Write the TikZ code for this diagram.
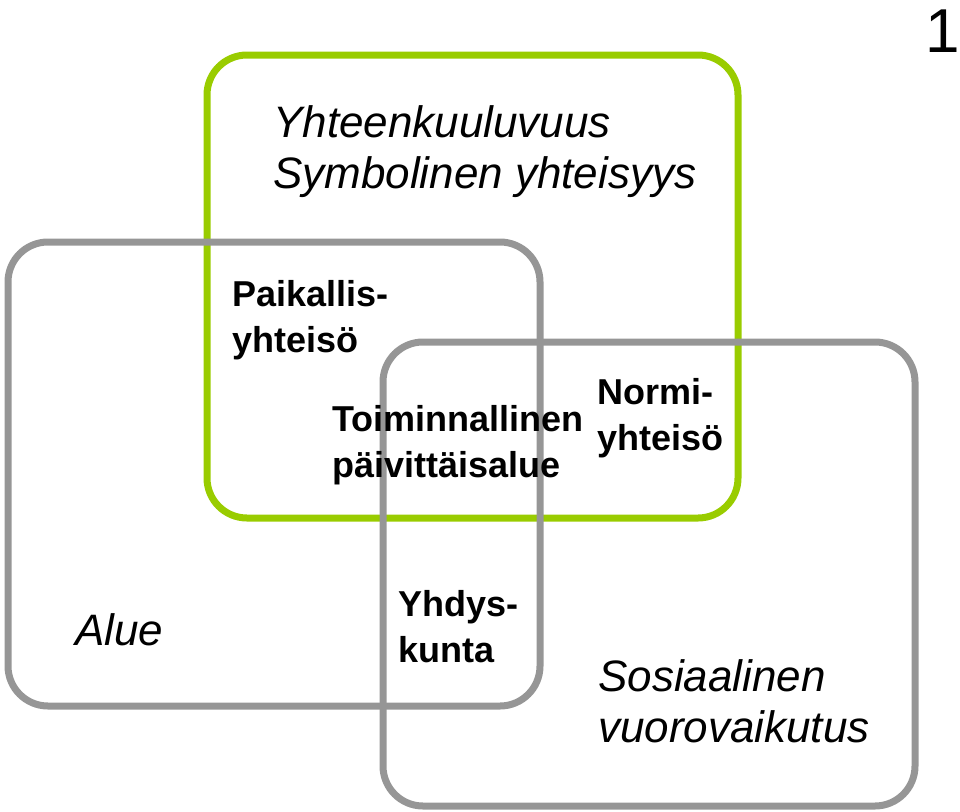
\documentclass[tikz,border=0pt]{standalone}
\usepackage{fontspec}
\setmainfont{Liberation Sans}
\definecolor{grn}{RGB}{153,204,0}
\definecolor{gry}{RGB}{150,150,150}
\begin{document}
\begin{tikzpicture}[x=1pt,y=-1pt,
  box/.style={line width=7pt,rounded corners=40pt},
  it/.style={anchor=base west,font=\fontsize{44}{51}\selectfont\itshape,align=left,inner sep=0},
  bd/.style={anchor=base west,font=\fontsize{36}{46}\selectfont\bfseries,align=left,inner sep=0}]
\useasboundingbox (0,0) rectangle (960,811);
\draw[box,grn] (207,55) rectangle (738,518);
\draw[box,gry] (8,242) rectangle (540,706);
\draw[box,gry] (383,342) rectangle (915,806);
\node[it] (t1) at (273,188) {Yhteenkuuluvuus\\Symbolinen yhteisyys};
\node[bd] (t2) at (232,352) {Paikallis-\\yhteisö};
\node[bd] (t3) at (332,477) {Toiminnallinen\\päivittäisalue};
\node[bd] (t4) at (597,450) {Normi-\\yhteisö};
\node[it] (t5) at (75,645) {Alue};
\node[bd] (t6) at (398,662) {Yhdys-\\kunta};
\node[it] (t7) at (598,742) {Sosiaalinen\\vuorovaikutus};
\node[anchor=base east,inner sep=0,font=\fontsize{62}{62}\selectfont] (n) at (960,52) {1};
\end{tikzpicture}
\end{document}
